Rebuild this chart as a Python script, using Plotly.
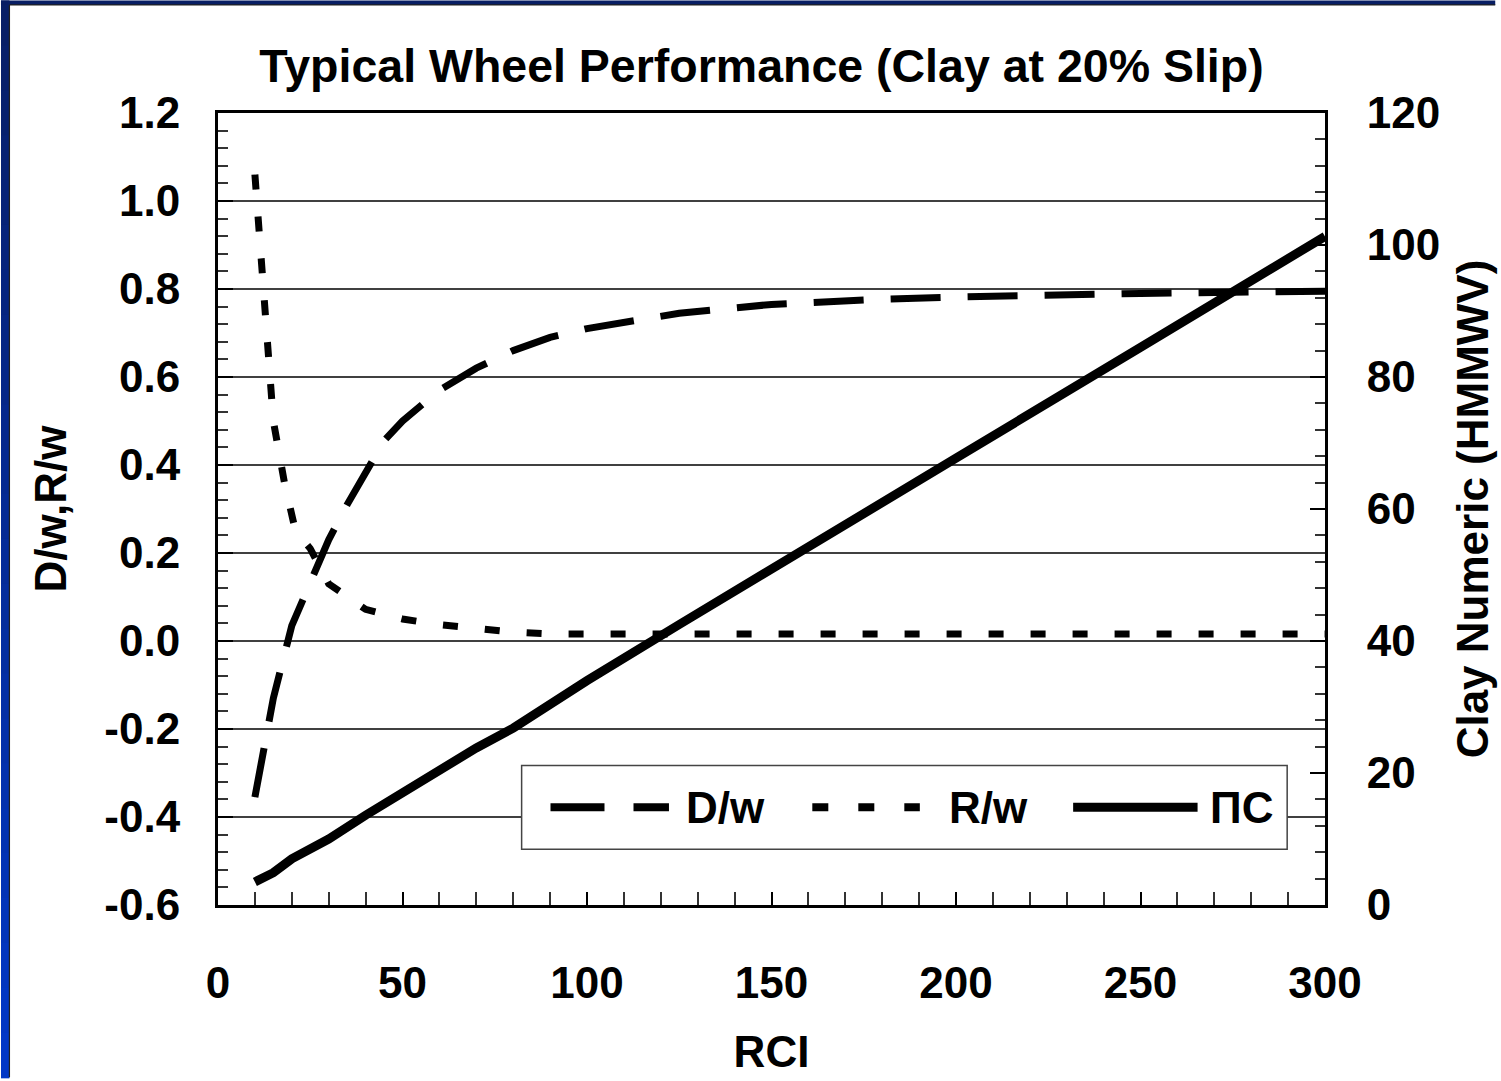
import plotly.graph_objects as go

# ---------------- data ----------------
rci_dw = [10, 12.5, 15, 20, 25, 30, 35, 40, 45, 50, 60, 70, 80, 90, 100, 125, 150, 175, 200, 250, 300]
dw_vals = [-0.355, -0.25, -0.13, 0.035, 0.13, 0.23, 0.31, 0.385, 0.455, 0.50, 0.57, 0.62, 0.66,
           0.69, 0.71, 0.745, 0.765, 0.775, 0.782, 0.79, 0.795]

rci_rw = [10, 15, 18, 21, 25, 30, 40, 50, 60, 70, 80, 90, 100, 150, 200, 250, 300]
rw_vals = [1.06, 0.50, 0.36, 0.25, 0.21, 0.13, 0.072, 0.05, 0.037, 0.027, 0.02, 0.016, 0.016,
           0.016, 0.016, 0.016, 0.016]

rci_cn = [10, 15, 20, 30, 40, 50, 60, 70, 80, 90, 100, 125, 150, 175, 200, 250, 300]
cn_vals = [3.5, 4.9, 7.0, 10.0, 13.6, 17.0, 20.2, 23.8, 26.8, 30.5, 34.0, 42.5, 51.0, 59.4,
           67.7, 84.5, 101.3]

x_ticks = [0, 50, 100, 150, 200, 250, 300]
y_ticks = [-0.6, -0.4, -0.2, 0.0, 0.2, 0.4, 0.6, 0.8, 1.0, 1.2]
y_tick_labels = ["-0.6", "-0.4", "-0.2", "0.0", "0.2", "0.4", "0.6", "0.8", "1.0", "1.2"]
y2_ticks = [0, 20, 40, 60, 80, 100, 120]

title_text = "Typical Wheel Performance (Clay at 20% Slip)"
legend_names = ["D/w", "R/w", "ПС"]

# ---------------- layout geometry ----------------
W, H = 1501, 1081
L, R, T, B = 218, 171, 113, 173
PW, PH = W - L - R, H - T - B
FONT = "Liberation Sans, Arial, Helvetica, sans-serif"


def px(p):  # figure pixel x -> paper x
    return (p - L) / PW


def py(p):  # figure pixel y -> paper y
    return (H - B - p) / PH


fig = go.Figure()

fig.add_trace(go.Scatter(x=rci_dw, y=dw_vals, name=legend_names[0], mode="lines",
                         line=dict(color="black", width=7, dash="50px,27px"),
                         yaxis="y", showlegend=False))
fig.add_trace(go.Scatter(x=rci_rw, y=rw_vals, name=legend_names[1], mode="lines",
                         line=dict(color="black", width=7, dash="15px,27px"),
                         yaxis="y", showlegend=False))
fig.add_trace(go.Scatter(x=rci_cn, y=cn_vals, name=legend_names[2], mode="lines",
                         line=dict(color="black", width=9),
                         yaxis="y2", showlegend=False))

shapes = []
annotations = []

# slide frame: blue strips on the left and top
top_c = (8, 30, 100)
bot_c = (2, 56, 200)
n = 24
for i in range(n):
    f = (i + 0.5) / n
    c = tuple(int(round(top_c[k] + (bot_c[k] - top_c[k]) * f)) for k in range(3))
    p0 = H * i / n
    p1 = H * (i + 1) / n + 1
    shapes.append(dict(type="rect", xref="paper", yref="paper",
                       x0=px(0), x1=px(8.5), y0=py(p1), y1=py(p0),
                       fillcolor="rgb(%d,%d,%d)" % c, line=dict(width=0), layer="above"))
shapes.append(dict(type="rect", xref="paper", yref="paper",
                   x0=px(0), x1=px(W), y0=py(4.5), y1=py(0),
                   fillcolor="rgb(8,30,100)", line=dict(width=0), layer="above"))
shapes.append(dict(type="line", xref="paper", yref="paper",
                   x0=px(8.5), x1=px(8.5), y0=py(H), y1=py(4.5),
                   line=dict(color="#222", width=1.2), layer="above"))
shapes.append(dict(type="line", xref="paper", yref="paper",
                   x0=px(8.5), x1=px(W), y0=py(4.5), y1=py(4.5),
                   line=dict(color="#222", width=1.2), layer="above"))

# custom legend box
lg_x0, lg_x1, lg_y0, lg_y1 = 523, 1292, 768, 852
lg_yc = 810
shapes.append(dict(type="rect", xref="paper", yref="paper",
                   x0=px(lg_x0), x1=px(lg_x1), y0=py(lg_y1), y1=py(lg_y0),
                   fillcolor="white", line=dict(color="#444", width=1.5), layer="above"))
samples = [
    (552, 671, dict(color="black", width=8, dash="54px,29px")),
    (815, 923, dict(color="black", width=8, dash="16px,30px")),
    (1077, 1202, dict(color="black", width=9)),
]
text_x = [686, 950, 1212]
for (a, b, ln), tx, name in zip(samples, text_x, legend_names):
    shapes.append(dict(type="line", xref="paper", yref="paper",
                       x0=px(a), x1=px(b), y0=py(lg_yc), y1=py(lg_yc),
                       line=ln, layer="above"))
    annotations.append(dict(text=name, xref="paper", yref="paper",
                            x=px(tx), y=py(lg_yc), xanchor="left", yanchor="middle",
                            showarrow=False,
                            font=dict(family=FONT, size=44, color="black", weight="bold")))

axis_common = dict(showline=True, linecolor="black", linewidth=3,
                   ticks="inside", tickcolor="black", tickwidth=1.5,
                   zeroline=False,
                   tickfont=dict(family=FONT, size=44, color="black", weight="bold"))

fig.update_layout(
    width=W, height=H,
    margin=dict(l=L, r=R, t=T, b=B),
    paper_bgcolor="white", plot_bgcolor="white",
    font=dict(family=FONT, color="black", weight="bold"),
    title=dict(text=title_text, x=761.5 / W, xanchor="center", xref="container",
               y=1 - 66 / H, yanchor="middle", yref="container",
               font=dict(family=FONT, size=46.5, color="black", weight="bold")),
    xaxis=dict(range=[0, 300], tickvals=x_ticks, ticklen=13, mirror=True,
               showgrid=False, ticklabelstandoff=37,
               minor=dict(dtick=10, ticks="inside", ticklen=13, tickcolor="#333",
                          tickwidth=1.5, showgrid=False),
               title=dict(text="RCI", standoff=31,
                          font=dict(family=FONT, size=44, color="black", weight="bold")),
               **axis_common),
    yaxis=dict(range=[-0.6, 1.2], tickvals=y_ticks, ticktext=y_tick_labels, ticklen=15,
               mirror=True, showgrid=True, gridcolor="#404040", gridwidth=1.5,
               ticklabelstandoff=26,
               minor=dict(dtick=0.04, tick0=-0.6, ticks="inside", ticklen=10,
                          tickcolor="#333", tickwidth=1.5, showgrid=False),
               title=dict(text="D/w,R/w", standoff=24,
                          font=dict(family=FONT, size=44, color="black", weight="bold")),
               **axis_common),
    yaxis2=dict(range=[0, 120], tickvals=y2_ticks, ticklen=15, overlaying="y",
                side="right", showgrid=False, ticklabelstandoff=30,
                minor=dict(dtick=4, tick0=0, ticks="inside", ticklen=10,
                           tickcolor="#333", tickwidth=1.5, showgrid=False),
                title=dict(text="Clay Numeric (HMMWV)", standoff=18,
                           font=dict(family=FONT, size=44, color="black", weight="bold")),
                **axis_common),
    shapes=shapes,
    annotations=annotations,
    showlegend=False,
)

fig.write_html("out.html", config={"displayModeBar": False},
               post_script="document.body.style.margin='0';document.body.style.overflow='hidden';")
